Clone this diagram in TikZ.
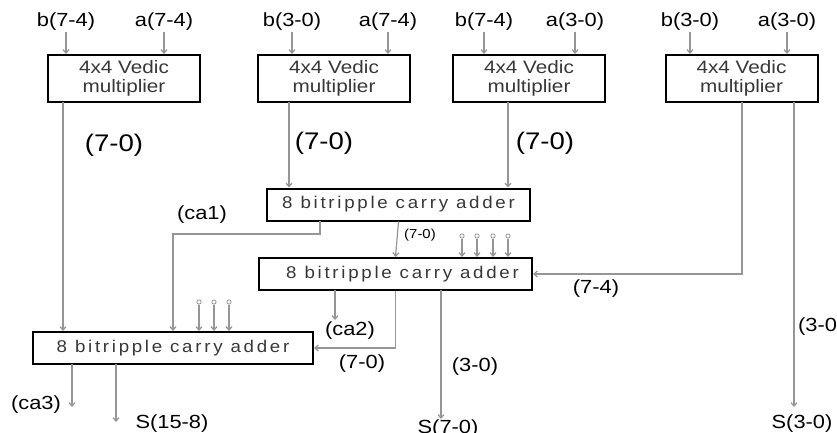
\documentclass[tikz,border=0pt]{standalone}
\usepackage{fontspec}
\setmainfont{Liberation Sans}[FakeStretch=1.15]
\newfontfamily\addfont{Liberation Sans}[FakeStretch=1.1,LetterSpace=16]
\usetikzlibrary{arrows,arrows.meta}
\usetikzlibrary{calc,positioning}
\definecolor{pfeil}{RGB}{150,150,150}
\definecolor{schrift}{RGB}{55,55,55}

\begin{document}
\begin{tikzpicture}[x=1pt,y=-1pt,
    mult/.style={draw=black,line width=2pt,minimum width=152pt,minimum height=47pt,
        align=center,text=schrift,font=\fontsize{18}{19}\selectfont},
    add/.style={draw=black,line width=2pt,minimum height=32pt,inner sep=0pt,
        text=schrift,font=\addfont\fontsize{17}{17}\selectfont},
    lab/.style={inner sep=1pt,font=\fontsize{19}{19}\selectfont},
    big/.style={inner sep=1pt,font=\fontsize{24}{24}\selectfont},
    small/.style={inner sep=1pt,font=\fontsize{13}{13}\selectfont},
    pin/.style={draw=pfeil,circle,fill=white,line width=0.8pt,inner sep=1.5pt},
    sig/.style={draw=pfeil,line width=1.2pt,-{Straight Barb[length=3.5pt,width=6pt]}}]
    \useasboundingbox (0,0) rectangle (837,432);

    % multipliers
    \node[mult] (m1) at (124,78.5) {4x4 Vedic\\multiplier};
    \node[mult] (m2) at (334,78.5) {4x4 Vedic\\multiplier};
    \node[mult] (m3) at (529,78.5) {4x4 Vedic\\multiplier};
    \node[mult] (m4) at (741.5,78.5) {4x4 Vedic\\multiplier};

    \node[lab] (b1) at (66,22) {b(7-4)};
    \node[lab] (a1) at (164,22) {a(7-4)};
    \node[lab] (b2) at (292,22) {b(3-0)};
    \node[lab] (a2) at (388,22) {a(7-4)};
    \node[lab] (b3) at (484,22) {b(7-4)};
    \node[lab] (a3) at (575,22) {a(3-0)};
    \node[lab] (b4) at (690,22) {b(3-0)};
    \node[lab] (a4) at (787,22) {a(3-0)};
    \foreach \n/\m in {b1/m1,a1/m1,b2/m2,a2/m2,b3/m3,a3/m3,b4/m4,a4/m4}
        \draw[sig] (\n.south) -- (\n.south |- \m.north);

    % adders
    \node[add,minimum width=263pt] (add1) at (398.5,204.5) {8 bitripple carry adder};
    \node[add,minimum width=273pt] (add2) at (395.5,274) {\hspace{14pt}8 bitripple carry adder};
    \node[add,minimum width=280pt] (add3) at (173,348) {8 bitripple carry adder};

    \coordinate (o1) at (63,102);
    \coordinate (o2) at (289,102);
    \coordinate (o3) at (508,102);
    \coordinate (o4) at (742,102);
    \coordinate (o5) at (794,102);
    \coordinate (e5) at (794,407);
    \draw[sig] (o1) -- (o1 |- add3.north);
    \draw[sig] (o2) -- (o2 |- add1.north);
    \draw[sig] (o3) -- (o3 |- add1.north);
    \draw[sig] (o4) |- (add2.east);
    \draw[sig] (o5) -- (e5);
    \node[big] (l1) at (114,145) {(7-0)};
    \node[big] (l2) at (324,143) {(7-0)};
    \node[big] (l3) at (545,143) {(7-0)};
    \node[lab] (l74) at (596,289) {(7-4)};
    \node[lab,anchor=west] (l30r) at (797,327) {(3-0)};
    \node[lab] (s30) at (802,424) {S(3-0)};

    % first adder
    \coordinate (c1) at (320,221);
    \draw[sig] (c1) -- ++(0,13) -| (add3.north);
    \node[lab] (lca1) at (202,215) {(ca1)};
    \draw[sig] (add1.south) -- (add2.north);
    \node[small] (l70s) at (420,235) {(7-0)};

    \foreach \x in {462,477,493,508} {
        \node[pin] (q\x) at (\x,236) {};
        \draw[sig] (q\x) -- (q\x |- add2.north);
    }
    \foreach \x in {199,214,229} {
        \node[pin] (r\x) at (\x,302) {};
        \draw[sig] (r\x) -- (r\x |- add3.north);
    }

    % second adder
    \coordinate (c2) at (335,290);
    \coordinate (e2) at (335,320);
    \draw[sig] (c2) -- (e2);
    \node[lab] (lca2) at (350,331) {(ca2)};
    \draw[sig] (add2.south) |- (add3.east);
    \node[lab] (l70b) at (362,364) {(7-0)};
    \coordinate (c3) at (441,290);
    \node[lab,anchor=north] (s70) at (448,419) {S(7-0)};
    \draw[sig] (c3) -- (c3 |- s70.north);
    \node[lab] (l30) at (475,367) {(3-0)};

    % last adder
    \coordinate (c4) at (72,364);
    \coordinate (e4) at (72,407);
    \draw[sig] (c4) -- (e4);
    \node[lab] (lca3) at (36,405) {(ca3)};
    \coordinate (c6) at (116,364);
    \coordinate (e6) at (116,422);
    \draw[sig] (c6) -- (e6);
    \node[lab] (s158) at (172,424) {S(15-8)};
\end{tikzpicture}
\end{document}
